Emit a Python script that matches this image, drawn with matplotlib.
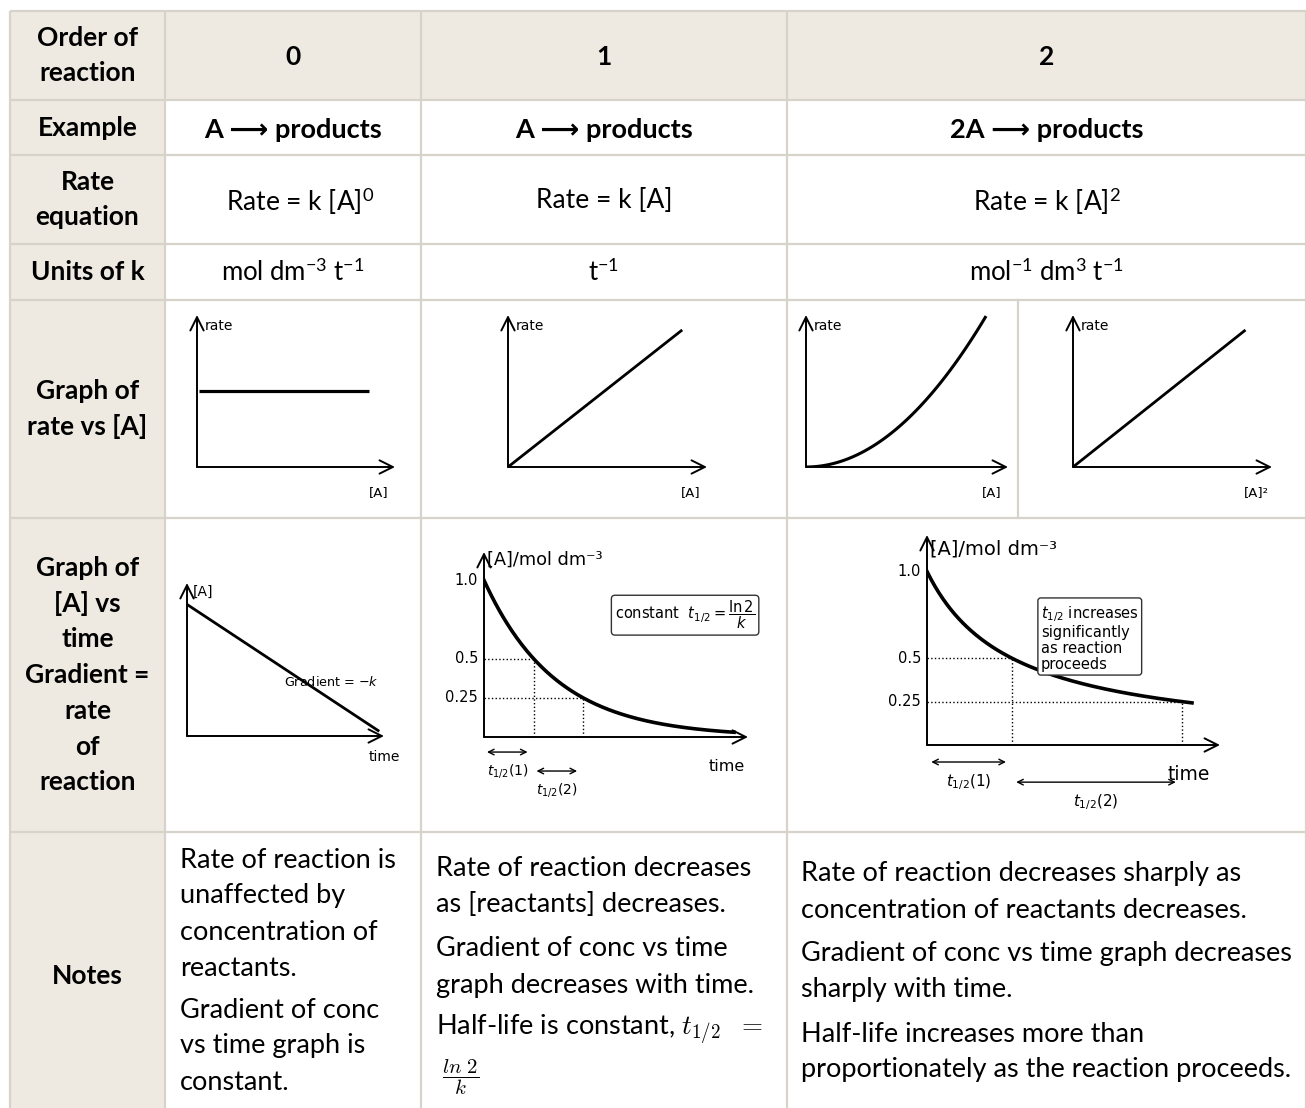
import numpy as np
import matplotlib.pyplot as plt
from matplotlib import font_manager

W, H = 1306, 1108

# ---- table content ----
row_labels = [
    ["Order of", "reaction"],
    ["Example"],
    ["Rate", "equation"],
    ["Units of k"],
    ["Graph of", "rate vs [A]"],
    ["Graph of", "[A] vs", "time", "Gradient =", "rate", "of", "reaction"],
    ["Notes"],
]
orders = ["0", "1", "2"]
examples = ["A ⟶ products", "A ⟶ products", "2A ⟶ products"]
rate_eqs = [r"Rate = k [A]$^{0}$", "Rate = k [A]", r"Rate = k [A]$^{2}$"]
units_k = [r"mol dm$^{-3}$ t$^{-1}$", r"t$^{-1}$", r"mol$^{-1}$ dm$^{3}$ t$^{-1}$"]

notes_0 = [["Rate of reaction is", "unaffected by", "concentration of", "reactants."],
           ["Gradient of conc", "vs time graph is", "constant."]]
notes_1 = [["Rate of reaction decreases", "as [reactants] decreases."],
           ["Gradient of conc vs time", "graph decreases with time."],
           [r"Half-life is constant, $t_{1/2}\ \ =$"]]
notes_2 = [["Rate of reaction decreases sharply as", "concentration of reactants decreases."],
           ["Gradient of conc vs time graph decreases", "sharply with time."],
           ["Half-life increases more than", "proportionately as the reaction proceeds."]]

# ---- graph data ----
rate0_level = 0.5          # zero order: rate independent of [A]
conc_max = 0.87
k1_rate = 1.03             # first order: rate = k[A]
k2_rate = 1.25             # second order: rate = k[A]^2
k2_lin = 1.04              # second order: rate vs [A]^2
zero_A0, zero_k, zero_tend = 0.86, 0.85, 0.97

first_A0 = 1.0             # first order decay, time in half-lives
first_tend = 5.05
second_A0 = 1.0            # second order decay, time in units of 1/(k[A]0)
second_tend = 3.12
tick_vals = [1.0, 0.5, 0.25]
tick_txt = ["1.0", "0.5", "0.25"]

# ---- layout (pixels) ----
col_edges = [10, 165, 421, 787, 1306]
row_edges = [11, 100, 155, 244, 300, 518, 832, 1108]
split_x = 1018
beige = "#EEEAE1"
grid = "#D7D3CA"


def has_font(name):
    try:
        font_manager.findfont(name, fallback_to_default=False)
        return True
    except ValueError:
        return False


narrow = "Liberation Sans Narrow" if has_font("Liberation Sans Narrow") else "Lato"
body = ["Lato", "DejaVu Sans"]

plt.rcParams["mathtext.rm"] = "Lato"
plt.rcParams["mathtext.it"] = "Lato:italic"
plt.rcParams["mathtext.bf"] = "Lato:bold"

fig = plt.figure(figsize=(W / 100, H / 100), dpi=100)
ax = fig.add_axes([0, 0, 1, 1])
ax.set_xlim(0, W)
ax.set_ylim(H, 0)
ax.axis("off")

# cell backgrounds
ax.add_patch(plt.Rectangle((col_edges[0], row_edges[0]), W - col_edges[0], row_edges[1] - row_edges[0],
                           fc=beige, ec="none"))
ax.add_patch(plt.Rectangle((col_edges[0], row_edges[0]), col_edges[1] - col_edges[0], H - row_edges[0],
                           fc=beige, ec="none"))
# grid lines
for y in row_edges[:-1]:
    ax.plot([col_edges[0], W], [y, y], color=grid, lw=1.6, solid_capstyle="butt")
for x in col_edges:
    ax.plot([x, x], [row_edges[0], H], color=grid, lw=1.6, solid_capstyle="butt")
ax.plot([split_x, split_x], [row_edges[4], row_edges[5]], color=grid, lw=1.6)


def lines_at(x, yc, lines, step, **kw):
    n = len(lines)
    for i, s in enumerate(lines):
        ax.text(x, yc + (i - (n - 1) / 2) * step, s, va="center", **kw)


lab_x = (col_edges[0] + col_edges[1]) / 2
for r, lab in enumerate(row_labels):
    yc = (row_edges[r] + row_edges[r + 1]) / 2
    if r == 6:
        yc = 976
    lines_at(lab_x, yc, lab, 35.8, ha="center", family=body, fontsize=19, fontweight="bold")

col_x = [(col_edges[i] + col_edges[i + 1]) / 2 for i in range(1, 4)]
for i in range(3):
    ax.text(col_x[i], 57, orders[i], ha="center", va="center", family=body, fontsize=19, fontweight="bold")
    ax.text(col_x[i], 130, examples[i], ha="center", va="center", family=body, fontsize=19.5,
            fontweight="bold")
    ax.text(col_x[i] + (7 if i == 0 else 0), 201, rate_eqs[i], ha="center", va="center", family=body,
            fontsize=19, math_fontfamily="custom")
    ax.text(col_x[i], 272, units_k[i], ha="center", va="center", family=body, fontsize=18.5,
            math_fontfamily="custom")

# notes
def paragraphs(x, y0, paras, step, gap, **kw):
    y = y0
    for p in paras:
        for s in p:
            ax.text(x, y, s, va="center", ha="left", **kw)
            y += step
        y += gap


paragraphs(180, 860, notes_0, 36, 6, family=narrow, fontsize=19.5)
paragraphs(436, 869, notes_1, 36, 8, family=narrow, fontsize=19.5, math_fontfamily="cm")
ax.text(461, 1077, r"$\dfrac{ln\ 2}{k}$", ha="center", va="center", fontsize=15, math_fontfamily="cm")
paragraphs(801, 874, notes_2, 36, 8, family=body, fontsize=19.5)


# ---- graphs ----
arrow_kw = dict(arrowstyle="->,head_length=0.6,head_width=0.3", lw=1.4, color="black",
                mutation_scale=16, shrinkA=0, shrinkB=0)


def graph_axes(x0, y0, x1, y1, xmax, ymax):
    # (x0, y0) origin in pixels, x1 tip of time/conc axis, y1 tip of vertical axis
    g = fig.add_axes([x0 / W, 1 - y0 / H, (x1 - x0) / W, (y0 - y1) / H])
    g.set_xlim(0, xmax)
    g.set_ylim(0, ymax)
    g.axis("off")
    g.patch.set_alpha(0)
    g.annotate("", xy=(1, 0), xytext=(0, 0), xycoords="axes fraction", arrowprops=arrow_kw,
               annotation_clip=False)
    g.annotate("", xy=(0, 1), xytext=(0, 0), xycoords="axes fraction", arrowprops=arrow_kw,
               annotation_clip=False)
    return g


def rate_graph(x0, x1, xlabel):
    g = graph_axes(x0, 467, x1, 315, 1.0, 1.0)
    g.text(0.04, 0.93, "rate", transform=g.transAxes, fontsize=10, va="center")
    g.text(0.92, -0.17, xlabel, transform=g.transAxes, fontsize=9.5, ha="center", va="center")
    return g


conc = np.linspace(0, conc_max, 100)
g = rate_graph(197, 395, "[A]")
g.plot([0.01, conc_max], [rate0_level, rate0_level], color="black", lw=2.3, solid_capstyle="butt")
g = rate_graph(508, 707, "[A]")
g.plot(conc, k1_rate * conc, color="black", lw=2.0)
g = rate_graph(806, 1008, "[A]")
g.plot(conc * 1.02, k2_rate * (conc * 1.02) ** 2, color="black", lw=2.2)
g = rate_graph(1073, 1272, "[A]²")
g.plot(conc * 0.99, k2_lin * conc * 0.99, color="black", lw=2.0)

# zero order [A] vs time
g = graph_axes(187, 736, 384, 583, 1.0, 1.0)
t = np.array([0, zero_tend])
g.plot(t, zero_A0 - zero_k * t, color="black", lw=2.0)
g.text(0.03, 0.94, "[A]", fontsize=10, va="center")
g.text(0.49, 0.35, r"Gradient = $-k$", fontsize=9.2, va="center")
g.text(1.0, -0.14, "time", fontsize=10, ha="center", va="center")

dbl = dict(arrowstyle="<->", lw=1, color="black", shrinkA=0, shrinkB=0)

# first order [A] vs time
g = graph_axes(484, 737, 748, 552, 5.33, 1.18)
tt = np.linspace(0, first_tend, 200)
g.plot(tt, first_A0 * 0.5 ** tt, color="black", lw=2.6)
for v, s in zip(tick_vals, tick_txt):
    g.text(-0.12, v, s, fontsize=10.5, ha="right", va="center")
for th, v in zip([1, 2], tick_vals[1:]):
    g.plot([0, th], [v, v], ls=":", color="black", lw=1)
    g.plot([th, th], [0, v], ls=":", color="black", lw=1)
g.text(0.06, 1.13, "[A]/mol dm⁻³", fontsize=12.8, va="center")
g.text(4.9, -0.185, "time", fontsize=11.5, ha="center", va="center")
g.text(4.06, 0.777, r"constant  $t_{1/2} = \dfrac{\ln 2}{k}$", fontsize=10.5, ha="center",
       va="center", bbox=dict(boxstyle="round,pad=0.25", fc="white", ec="#333333", lw=1))
for i, (a, b) in enumerate([(0, 1), (1, 2)]):
    yy = -0.096 - 0.121 * i
    g.annotate("", xy=(a + 0.06, yy), xytext=(b - 0.12, yy), arrowprops=dbl, annotation_clip=False)
    g.text((a + b) / 2 - 0.03, yy - 0.121, rf"$t_{{1/2}}$({i + 1})", fontsize=10, ha="center",
           va="center")

# second order [A] vs time
g = graph_axes(927, 745, 1220, 535, 3.45, 1.21)
tt = np.linspace(0, second_tend, 200)
g.plot(tt, second_A0 / (1 + tt), color="black", lw=2.6)
for v, s in zip(tick_vals, tick_txt):
    g.text(-0.07, v, s, fontsize=10.5, ha="right", va="center")
for th, v in zip([1, 3], tick_vals[1:]):
    g.plot([0, th], [v, v], ls=":", color="black", lw=1)
    g.plot([th, th], [0, v], ls=":", color="black", lw=1)
g.text(0.04, 1.13, "[A]/mol dm⁻³", fontsize=14, va="center")
g.text(3.08, -0.17, "time", fontsize=13.5, ha="center", va="center")
g.text(1.34, 0.815, "$t_{1/2}$ increases\nsignificantly\nas reaction\nproceeds", fontsize=10.5,
       ha="left", va="top", linespacing=1.1,
       bbox=dict(boxstyle="round,pad=0.2", fc="white", ec="#333333", lw=1))
spans = [(0, 1), (1, 3)]
for i, (a, b) in enumerate(spans):
    yy = -0.098 - 0.116 * i
    g.annotate("", xy=(a + 0.05, yy), xytext=(b - 0.07, yy), arrowprops=dbl, annotation_clip=False)
    g.text((a + b) / 2 - 0.01, yy - 0.113, rf"$t_{{1/2}}$({i + 1})", fontsize=11, ha="center",
           va="center")

fig.savefig("out.png", dpi=100)
